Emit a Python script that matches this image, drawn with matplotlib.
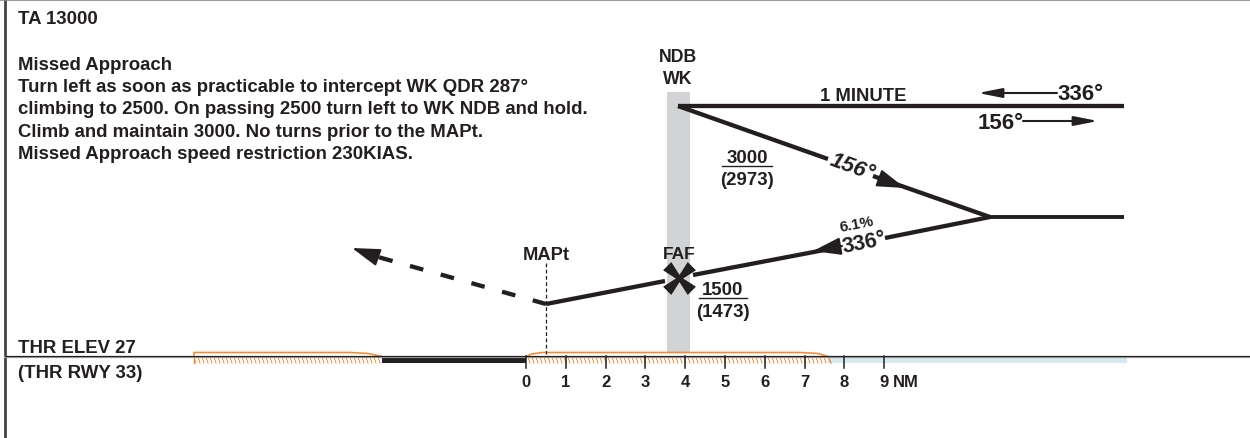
"""Missed approach profile view, drawn on a pixel sized canvas."""
import matplotlib
matplotlib.use('Agg')
import matplotlib.pyplot as plt
from matplotlib.path import Path as MPath

plt.rcParams['font.family'] = ['Liberation Sans', 'DejaVu Sans']

INK = '#231f20'
ORANGE = '#f28c38'
TEXT_SIZE = 13.4

note_lines = ['Missed Approach',
              'Turn left as soon as practicable to intercept WK QDR 287°',
              'climbing to 2500. On passing 2500 turn left to WK NDB and hold.',
              'Climb and maintain 3000. No turns prior to the MAPt.',
              'Missed Approach speed restriction 230KIAS.']
note_y = [63, 86, 108, 131, 153]

nm_ticks = [0, 1, 2, 3, 4, 5, 6, 7, 8, 9]
nm_zero = 526
nm_px = 39.8

hold_x, hold_y = [678, 1124], [107, 107]
outbound_x, outbound_y = [678, 828], [107, 160]
outbound2_x, outbound2_y = [873, 990], [177, 218]
lead_x, lead_y = [990, 1124], [218, 218]
inbound1_x, inbound1_y = [990, 885], [218, 239]
inbound2_x, inbound2_y = [840, 693], [248, 276]
inbound3_x, inbound3_y = [665, 546], [282, 305]
missed_x, missed_y = [546, 378], [305, 258]

terrain_left_x = [194, 194, 350, 368, 382]
terrain_left_y = [358, 353.5, 353.5, 354.5, 357.5]
terrain_right_x = [526, 532, 542, 800, 818, 828]
terrain_right_y = [357.5, 355, 353.5, 353.5, 354.5, 357.5]


def arrow(ax, start, tip, size=15, length=1.15, width=0.36):
    ax.annotate('', xy=tip, xytext=start, zorder=5,
                arrowprops=dict(arrowstyle=f'-|>,head_length={length},head_width={width}',
                                mutation_scale=size, color=INK, lw=1.5,
                                shrinkA=0, shrinkB=0))


def label(ax, x, y, s, size=TEXT_SIZE, ha='center', **kw):
    # va='center' sits about 2 px high for these capitals
    ax.text(x, y + 2, s, ha=ha, va='center', fontsize=size, fontweight='bold',
            color=INK, zorder=6, **kw)


def altitude(ax, x, y, top, bottom, half):
    label(ax, x, y, top)
    ax.plot([x - half, x + half], [y + 10, y + 10], color=INK, lw=1)
    label(ax, x, y + 22, bottom)


def hatch_strokes(ax, x0, x1):
    x = x0
    while x < x1:
        ax.plot([x, x + 2], [358, 364], color=ORANGE, lw=0.7, zorder=2)
        x += 4


fig = plt.figure(figsize=(12.5, 4.39), dpi=100)
ax = fig.add_axes([0, 0, 1, 1])
ax.set_xlim(0, 1250)
ax.set_ylim(439, 0)
ax.axis('off')

# frame
ax.plot([4.5, 4.5], [0, 439], color='#444444', lw=2)
ax.plot([0, 1250], [0.5, 0.5], color='#888888', lw=1.2)

# beacon column
ax.fill_between([667, 690], 93, 353, color='#d1d3d4', lw=0, zorder=1)

# ground
ax.fill_between([828, 1127], 358, 364, color='#d5e9f0', lw=0, zorder=1)
ax.fill_between([382, 526], 358, 364, color=INK, lw=0, zorder=2)
hatch_strokes(ax, 194, 380)
hatch_strokes(ax, 528, 828)
ax.plot(terrain_left_x, terrain_left_y, color=ORANGE, lw=1.2, zorder=3)
ax.plot([194, 194], [358, 364], color=ORANGE, lw=1, zorder=3)
ax.plot(terrain_right_x, terrain_right_y, color=ORANGE, lw=1.2, zorder=3)
ax.plot([828, 831], [357.5, 364], color=ORANGE, lw=1, zorder=3)
ax.plot([5, 1250], [358, 358], color='#999999', lw=1.6, zorder=3)
ax.plot([5, 1250], [357.3, 357.3], color=INK, lw=0.8, zorder=3)

for n in nm_ticks:
    x = nm_zero + n * nm_px
    ax.plot([x, x], [357, 369], color=INK, lw=1.1, zorder=4)
    label(ax, x, 381, str(n), size=12)
label(ax, 893, 381, 'NM', size=12, ha='left')

# flight path
for xs, ys in [(hold_x, hold_y), (outbound_x, outbound_y), (outbound2_x, outbound2_y),
               (inbound1_x, inbound1_y), (inbound2_x, inbound2_y), (inbound3_x, inbound3_y)]:
    ax.plot(xs, ys, color=INK, lw=3.1, solid_capstyle='butt', zorder=4)
ax.plot(lead_x, lead_y, color=INK, lw=2.8, solid_capstyle='butt', zorder=4)
ax.plot(missed_x, missed_y, color=INK, lw=3.1, dashes=(3.2, 4.2), zorder=4)
ax.plot([546, 546], [264, 355], color=INK, lw=0.9, dashes=(3, 2), zorder=3)

arrow(ax, (876, 178), (905, 189))
arrow(ax, (842, 247), (813, 252))
arrow(ax, (380, 259), (352, 249))
arrow(ax, (1057, 94), (978, 94), 15, 0.96, 0.19)
arrow(ax, (1023, 122), (1098, 122), 15, 0.96, 0.19)

# FAF marker
blades = [(0, -0.22), (-0.5, -1), (-1, -0.5), (-0.22, 0),
          (-1, 0.5), (-0.5, 1), (0, 0.22),
          (0.5, 1), (1, 0.5), (0.22, 0),
          (1, -0.5), (0.5, -1), (0, -0.22)]
faf_marker = MPath(blades)
ax.scatter([679], [279], marker=faf_marker, s=560, color=INK, lw=0, zorder=5)

# text
label(ax, 18, 18, 'TA 13000', ha='left')
for line, y in zip(note_lines, note_y):
    label(ax, 18, y, line, ha='left')
label(ax, 18, 347, 'THR ELEV 27', ha='left')
label(ax, 18, 372, '(THR RWY 33)', ha='left')

label(ax, 678, 56, 'NDB', size=12.8)
label(ax, 678, 78, 'WK', size=12.8)
label(ax, 863, 95, '1 MINUTE', size=13.3)
label(ax, 1081, 93, '336°', size=16)
label(ax, 1001, 122, '156°', size=16)
label(ax, 852, 166, '156°', size=16, style='italic', rotation=-20, rotation_mode='anchor')
label(ax, 857, 223, '6.1%', size=11, rotation=11, rotation_mode='anchor')
label(ax, 864, 241, '336°', size=15.5, rotation=11, rotation_mode='anchor')
label(ax, 679, 253, 'FAF', size=12.5)
label(ax, 546, 254, 'MAPt', size=13.2)
altitude(ax, 747, 157, '3000', '(2973)', 25)
altitude(ax, 723, 289, '1500', '(1473)', 24)

fig.savefig('out.png', dpi=100)
